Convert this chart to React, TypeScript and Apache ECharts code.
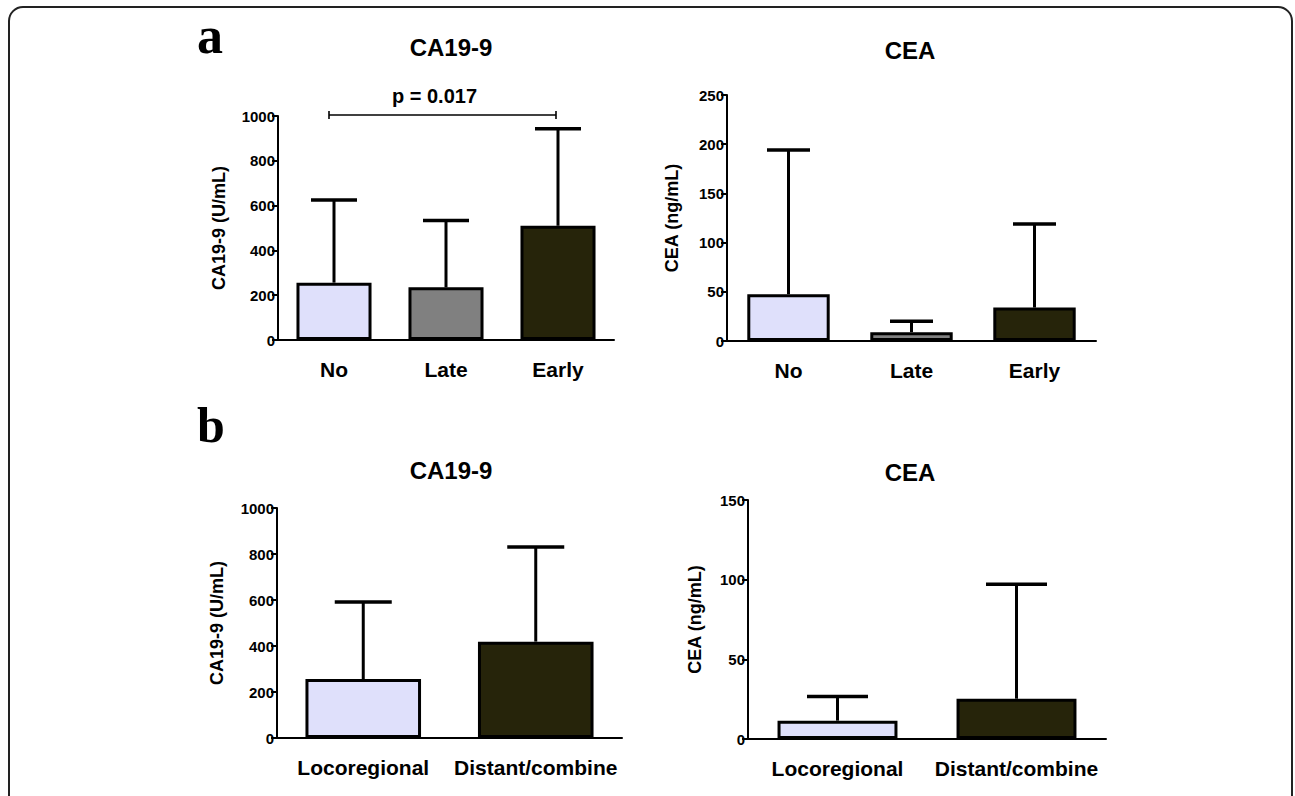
import React, { useEffect, useRef } from "react";
import * as echarts from "echarts";

// ---- data ----
const catsA = ["No", "Late", "Early"];
const catsB = ["Locoregional", "Distant/combine"];
const colorsA = ["#DFE0FB", "#808080", "#26240A"];
const colorsB = ["#DFE0FB", "#26240A"];

const ca199A_mean = [256, 235, 510];
const ca199A_upper = [625, 533, 943];
const ceaA_mean = [47.5, 9, 34];
const ceaA_upper = [194, 20, 119];

const ca199B_mean = [256, 419];
const ca199B_upper = [591, 830];
const ceaB_mean = [11.5, 25.3];
const ceaB_upper = [26.7, 97.2];

const pText = "p = 0.017";
const pBracket = [0, 2, 1000]; // from category 0 to category 2 at y = 1000

const FONT = "'Liberation Sans', Arial, Helvetica, sans-serif";

function barSeries(idx: number, means: number[], colors: string[]) {
  return {
    type: "bar",
    xAxisIndex: idx,
    yAxisIndex: idx,
    barWidth: "67%",
    data: means.map((v, i) => ({ value: v, itemStyle: { color: colors[i] } })),
    itemStyle: { borderColor: "#000", borderWidth: 3 },
    silent: true,
    z: 2,
  };
}

function errSeries(idx: number, means: number[], uppers: number[], capW: number) {
  return {
    type: "custom",
    xAxisIndex: idx,
    yAxisIndex: idx,
    silent: true,
    z: 3,
    data: means.map((m, i) => [i, m, uppers[i]]),
    renderItem: (params: any, api: any) => {
      const p0 = api.coord([api.value(0), api.value(1)]);
      const p1 = api.coord([api.value(0), api.value(2)]);
      return {
        type: "group",
        children: [
          {
            type: "line",
            shape: { x1: p0[0], y1: p0[1], x2: p1[0], y2: p1[1] },
            style: { stroke: "#000", lineWidth: 3 },
          },
          {
            type: "line",
            shape: { x1: p1[0] - capW / 2, y1: p1[1], x2: p1[0] + capW / 2, y2: p1[1] },
            style: { stroke: "#000", lineWidth: 3.5 },
          },
        ],
      };
    },
  };
}

function xAxis(idx: number, cats: string[]) {
  return {
    type: "category",
    gridIndex: idx,
    data: cats,
    axisLine: { lineStyle: { color: "#000", width: 2 } },
    axisTick: { alignWithLabel: true, length: 7, lineStyle: { color: "#000", width: 2 } },
    axisLabel: {
      color: "#000",
      fontSize: 21,
      fontWeight: "bold",
      fontFamily: FONT,
      margin: 19,
      interval: 0,
      hideOverlap: false,
    },
    splitLine: { show: false },
  };
}

function yAxis(idx: number, max: number, interval: number, name: string, gap: number) {
  return {
    type: "value",
    gridIndex: idx,
    min: 0,
    max,
    interval,
    name,
    nameLocation: "middle",
    nameRotate: 90,
    nameGap: gap,
    nameTextStyle: { color: "#000", fontSize: 18, fontWeight: "bold", fontFamily: FONT },
    axisLine: { show: true, lineStyle: { color: "#000", width: 2 } },
    axisTick: { show: true, length: 6, lineStyle: { color: "#000", width: 2 } },
    axisLabel: {
      color: "#000",
      fontSize: 15,
      fontWeight: "bold",
      fontFamily: FONT,
      margin: 3,
      formatter: (v: number) => String(v),
    },
    splitLine: { show: false },
  };
}

export default function App() {
  const ref = useRef<HTMLDivElement>(null);
  useEffect(() => {
    if (!ref.current) return;
    const chart = echarts.init(ref.current, undefined, { renderer: "svg" });
    const titleStyle = { color: "#000", fontSize: 24, fontWeight: "bold", fontFamily: FONT };
    const serif = "'Liberation Serif', 'Times New Roman', serif";
    const option: any = {
      animation: false,
      backgroundColor: "#fff",
      title: [
        { text: "CA19-9", left: 446, top: 30, textAlign: "center", textStyle: titleStyle },
        { text: "CEA", left: 905, top: 33, textAlign: "center", textStyle: titleStyle },
        { text: "CA19-9", left: 446, top: 453, textAlign: "center", textStyle: titleStyle },
        { text: "CEA", left: 905, top: 455, textAlign: "center", textStyle: titleStyle },
      ],
      grid: [
        { left: 278, top: 116, width: 336, height: 224 },
        { left: 727, top: 95, width: 369, height: 246 },
        { left: 277, top: 508, width: 345, height: 230 },
        { left: 748, top: 500, width: 358, height: 239 },
      ],
      xAxis: [xAxis(0, catsA), xAxis(1, catsA), xAxis(2, catsB), xAxis(3, catsB)],
      yAxis: [
        yAxis(0, 1000, 200, "CA19-9 (U/mL)", 50),
        yAxis(1, 250, 50, "CEA (ng/mL)", 46),
        yAxis(2, 1000, 200, "CA19-9 (U/mL)", 51),
        yAxis(3, 150, 50, "CEA (ng/mL)", 44),
      ],
      graphic: [
        {
          type: "rect",
          shape: { x: 9, y: 7, width: 1283, height: 830, r: 14 },
          style: { fill: "none", stroke: "#222", lineWidth: 2 },
          silent: true,
        },
        {
          type: "text",
          left: 197,
          top: 9,
          style: { text: "a", fontSize: 52, fontWeight: "bold", fontFamily: serif, fill: "#000" },
        },
        {
          type: "text",
          left: 197,
          top: 400,
          style: { text: "b", fontSize: 50, fontWeight: "bold", fontFamily: serif, fill: "#000" },
        },
      ],
      series: [
        barSeries(0, ca199A_mean, colorsA),
        errSeries(0, ca199A_mean, ca199A_upper, 46),
        barSeries(1, ceaA_mean, colorsA),
        errSeries(1, ceaA_mean, ceaA_upper, 43),
        barSeries(2, ca199B_mean, colorsB),
        errSeries(2, ca199B_mean, ca199B_upper, 57),
        barSeries(3, ceaB_mean, colorsB),
        errSeries(3, ceaB_mean, ceaB_upper, 61),
        {
          type: "custom",
          xAxisIndex: 0,
          yAxisIndex: 0,
          silent: true,
          z: 4,
          data: [pBracket],
          renderItem: (params: any, api: any) => {
            const a = api.coord([api.value(0), api.value(2)]);
            const b = api.coord([api.value(1), api.value(2)]);
            const x1 = a[0] - 5;
            const x2 = b[0] - 2;
            const y = a[1] - 1;
            return {
              type: "group",
              children: [
                { type: "line", shape: { x1, y1: y, x2, y2: y }, style: { stroke: "#000", lineWidth: 1.6 } },
                { type: "line", shape: { x1, y1: y - 4, x2: x1, y2: y + 4 }, style: { stroke: "#000", lineWidth: 1.6 } },
                { type: "line", shape: { x1: x2, y1: y - 4, x2, y2: y + 4 }, style: { stroke: "#000", lineWidth: 1.6 } },
                {
                  type: "text",
                  x: (x1 + x2) / 2 - 8,
                  y: y - 9,
                  style: {
                    text: pText,
                    fontSize: 20,
                    fontWeight: "bold",
                    fontFamily: FONT,
                    fill: "#000",
                    align: "center",
                    verticalAlign: "bottom",
                  },
                },
              ],
            };
          },
        },
      ],
    };
    chart.setOption(option);
    return () => chart.dispose();
  }, []);
  return (
    <div
      ref={ref}
      style={{ position: "fixed", left: 0, top: 0, width: 1295, height: 796, background: "#fff" }}
    />
  );
}
